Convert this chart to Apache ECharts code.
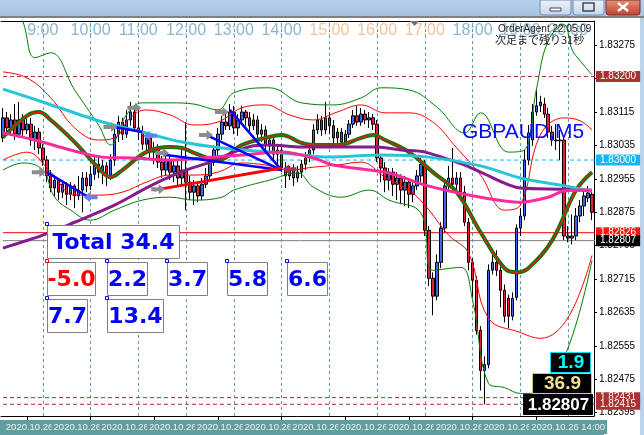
<!DOCTYPE html>
<html>
<head>
<meta charset="utf-8">
<script src="https://cdn.jsdelivr.net/npm/echarts@6/dist/echarts.min.js"></script>
<style>
html, body { margin: 0; padding: 0; background: #fff; }
#main { width: 644px; height: 435px; }
</style>
</head>
<body>
<div id="main"></div>
<script>
// GBPAUD M5, 2020.10.26 02:10 .. 14:30 (server time)

// candles: [open, close, low, high]
const candles = [
[1.83053,1.83101,1.83043,1.83125],[1.83101,1.83077,1.83067,1.83115],[1.83077,1.83096,1.83062,1.83110],[1.83096,1.83062,1.83048,1.83134],
[1.83062,1.83096,1.83053,1.83139],[1.83096,1.83072,1.83058,1.83110],[1.83072,1.83086,1.83062,1.83101],[1.83086,1.83048,1.83034,1.83101],
[1.83048,1.83067,1.83024,1.83082],[1.83067,1.83029,1.83014,1.83077],[1.83029,1.83000,1.82986,1.83038],[1.83000,1.82962,1.82947,1.83010],
[1.82962,1.82933,1.82923,1.82976],[1.82933,1.82952,1.82914,1.82962],[1.82952,1.82923,1.82904,1.82957],[1.82923,1.82942,1.82909,1.82952],
[1.82942,1.82918,1.82892,1.82947],[1.82918,1.82938,1.82904,1.82947],[1.82938,1.82914,1.82885,1.82942],[1.82914,1.82928,1.82904,1.82962],
[1.82928,1.82957,1.82875,1.82971],[1.82957,1.82938,1.82923,1.82971],[1.82938,1.82966,1.82928,1.82986],[1.82966,1.82990,1.82952,1.83010],
[1.82990,1.82971,1.82957,1.83005],[1.82971,1.82986,1.82942,1.83000],[1.82986,1.82962,1.82938,1.82995],[1.82962,1.83000,1.82952,1.83014],
[1.83000,1.83062,1.82986,1.83077],[1.83062,1.83091,1.83043,1.83106],[1.83091,1.83062,1.83048,1.83101],[1.83062,1.83096,1.83053,1.83120],
[1.83096,1.83115,1.83082,1.83139],[1.83115,1.83077,1.83067,1.83130],[1.83077,1.83067,1.83048,1.83125],[1.83067,1.83038,1.83024,1.83082],
[1.83038,1.83053,1.83019,1.83067],[1.83053,1.83019,1.83005,1.83062],[1.83019,1.83029,1.82990,1.83043],[1.83029,1.82995,1.82981,1.83038],
[1.82995,1.82976,1.82957,1.83010],[1.82976,1.83000,1.82962,1.83014],[1.83000,1.82971,1.82952,1.83010],[1.82971,1.82986,1.82947,1.83000],
[1.82986,1.82957,1.82938,1.83000],[1.82957,1.82976,1.82942,1.83024],[1.82976,1.82947,1.82880,1.83091],[1.82947,1.82923,1.82904,1.82962],
[1.82923,1.82938,1.82892,1.82952],[1.82938,1.82914,1.82899,1.82947],[1.82914,1.82942,1.82904,1.82957],[1.82942,1.82962,1.82933,1.82981],
[1.82962,1.82995,1.82952,1.83010],[1.82995,1.83024,1.82986,1.83034],[1.83024,1.83062,1.83010,1.83077],[1.83062,1.83091,1.83048,1.83106],
[1.83091,1.83082,1.83072,1.83115],[1.83082,1.83115,1.83072,1.83134],[1.83115,1.83077,1.83062,1.83130],[1.83077,1.83096,1.83058,1.83110],
[1.83096,1.83115,1.83086,1.83130],[1.83115,1.83101,1.83082,1.83120],[1.83101,1.83082,1.83067,1.83115],[1.83082,1.83096,1.83072,1.83110],
[1.83096,1.83062,1.83053,1.83106],[1.83062,1.83072,1.83043,1.83086],[1.83072,1.83038,1.83024,1.83082],[1.83038,1.83048,1.83014,1.83058],
[1.83048,1.83014,1.83000,1.83053],[1.83014,1.83024,1.82990,1.83038],[1.83024,1.82981,1.82971,1.83034],[1.82981,1.82962,1.82933,1.82995],
[1.82962,1.82976,1.82952,1.82986],[1.82976,1.82957,1.82938,1.82990],[1.82957,1.82971,1.82947,1.82986],[1.82971,1.82990,1.82957,1.83000],
[1.82990,1.83005,1.82976,1.83019],[1.83005,1.83024,1.82995,1.83034],[1.83024,1.83072,1.83014,1.83086],[1.83072,1.83096,1.83062,1.83110],
[1.83096,1.83072,1.83058,1.83106],[1.83072,1.83101,1.83062,1.83139],[1.83101,1.83082,1.83062,1.83115],[1.83082,1.83053,1.83038,1.83096],
[1.83053,1.83067,1.83034,1.83077],[1.83067,1.83043,1.83029,1.83077],[1.83043,1.83062,1.83029,1.83072],[1.83062,1.83086,1.83053,1.83096],
[1.83086,1.83106,1.83077,1.83120],[1.83106,1.83091,1.83082,1.83130],[1.83091,1.83110,1.83082,1.83125],[1.83110,1.83096,1.83086,1.83120],
[1.83096,1.83101,1.83077,1.83115],[1.83101,1.83086,1.83072,1.83110],[1.83086,1.83005,1.82995,1.83096],[1.83005,1.82981,1.82947,1.83014],
[1.82981,1.82952,1.82923,1.82995],[1.82952,1.82971,1.82928,1.82981],[1.82971,1.82942,1.82914,1.82981],[1.82942,1.82957,1.82904,1.82971],
[1.82957,1.82928,1.82894,1.82966],[1.82928,1.82947,1.82890,1.82962],[1.82947,1.82918,1.82885,1.82957],[1.82918,1.82938,1.82899,1.82952],
[1.82938,1.82962,1.82928,1.82976],[1.82962,1.82990,1.82947,1.83005],[1.82986,1.82832,1.82818,1.83000],[1.82832,1.82717,1.82698,1.82842],
[1.82717,1.82674,1.82628,1.82731],[1.82674,1.82755,1.82664,1.82774],[1.82755,1.82837,1.82741,1.82851],[1.82837,1.82938,1.82827,1.82952],
[1.82938,1.82957,1.82923,1.82986],[1.82957,1.82942,1.82928,1.83029],[1.82942,1.82957,1.82923,1.82971],[1.82957,1.82923,1.82909,1.82971],
[1.82923,1.82851,1.82842,1.82938],[1.82851,1.82755,1.82736,1.82861],[1.82755,1.82712,1.82671,1.82765],[1.82712,1.82592,1.82582,1.82722],
[1.82592,1.82496,1.82448,1.82602],[1.82496,1.82510,1.82415,1.82530],[1.82510,1.82736,1.82501,1.82750],[1.82736,1.82755,1.82726,1.82784],
[1.82755,1.82736,1.82722,1.82784],[1.82736,1.82688,1.82647,1.82746],[1.82688,1.82626,1.82611,1.82702],[1.82669,1.82626,1.82597,1.82678],
[1.82626,1.82669,1.82616,1.82683],[1.82671,1.82837,1.82664,1.82846],[1.82837,1.82866,1.82818,1.82885],[1.82866,1.83000,1.82856,1.83024],
[1.83000,1.83065,1.82988,1.83084],[1.83048,1.83115,1.83034,1.83134],[1.83115,1.83130,1.83106,1.83168],[1.83130,1.83139,1.83115,1.83154],
[1.83134,1.83110,1.83101,1.83149],[1.83110,1.83067,1.83053,1.83125],[1.83067,1.83048,1.83034,1.83082],[1.83048,1.83046,1.83024,1.83086],
[1.83046,1.83048,1.83000,1.83072],[1.83048,1.82818,1.82808,1.83058],[1.82818,1.82813,1.82803,1.82842],[1.82813,1.82818,1.82798,1.82870],
[1.82818,1.82866,1.82808,1.82885],[1.82866,1.82890,1.82851,1.82904],[1.82890,1.82914,1.82866,1.82928],[1.82909,1.82921,1.82899,1.82938],
[1.82918,1.82875,1.82856,1.82928]
];

// indicator lines: [bar index, price]
const maCyan = [[0,1.83170],[10,1.83139],[25,1.83091],[35,1.83067],[45,1.83043],[55,1.83029],[70,1.83017],[82,1.83007],
  [95,1.83012],[107,1.83007],[120,1.82986],[130,1.82957],[140,1.82940],[148,1.82926]];
const maPink = [[0,1.83065],[8,1.83048],[17,1.83024],[25,1.83007],[33,1.83005],[42,1.83000],[50,1.83005],[60,1.83012],
  [70,1.83019],[78,1.83005],[83,1.82988],[97,1.82969],[106,1.82940],[120,1.82911],[130,1.82899],[137,1.82911],[141,1.82926],[148,1.82928]];
const maPurple = [[0,1.82789],[10,1.82820],[18,1.82851],[28,1.82892],[35,1.82928],[40,1.82952],[46,1.82976],[52,1.82995],
  [58,1.83019],[63,1.83034],[67,1.83036],[75,1.83031],[94,1.83031],[100,1.83024],[106,1.83019],[116,1.82988],[120,1.82971],
  [130,1.82933],[141,1.82930],[148,1.82926]];
const bbMid = [[0,1.83055],[6,1.83106],[9,1.83115],[12,1.83096],[18,1.83043],[24,1.82981],[27,1.82959],[30,1.82976],
  [36,1.83019],[42,1.83031],[45,1.83029],[48,1.83017],[54,1.83000],[60,1.83036],[66,1.83053],[70,1.83060],[75,1.83041],
  [78,1.83036],[84,1.83036],[90,1.83053],[93,1.83060],[96,1.83048],[102,1.83019],[108,1.82971],[114,1.82923],[120,1.82827],
  [126,1.82741],[129,1.82731],[132,1.82741],[138,1.82808],[144,1.82928],[148,1.82971]];
const bbUpper = [[0,1.83211],[6,1.83197],[12,1.83149],[18,1.83077],[24,1.83048],[28,1.83053],[32,1.83101],[36,1.83120],
  [42,1.83108],[48,1.83084],[54,1.83091],[60,1.83125],[66,1.83132],[72,1.83108],[78,1.83096],[84,1.83115],[90,1.83132],
  [96,1.83113],[102,1.83113],[108,1.83091],[114,1.83029],[120,1.82964],[126,1.82880],[130,1.82892],[135,1.83060],
  [141,1.83101],[145,1.83094],[148,1.83072]];
const bbLower = [[0,1.83000],[6,1.83019],[12,1.82971],[18,1.82916],[24,1.82916],[30,1.82923],[36,1.82947],[42,1.82964],
  [48,1.82964],[54,1.82971],[60,1.82993],[66,1.82988],[72,1.82976],[78,1.82983],[84,1.82988],[90,1.82995],[96,1.82959],
  [102,1.82928],[106,1.82892],[112,1.82820],[117,1.82777],[122,1.82621],[130,1.82587],[135,1.82573],[142,1.82623],[148,1.82772]];
const envUpper = [[3,1.83360],[5,1.83331],[8,1.83245],[12,1.83257],[18,1.83168],[24,1.83084],[27,1.83036],[31,1.83108],
  [35,1.83137],[42,1.83137],[48,1.83134],[54,1.83120],[58,1.83161],[67,1.83173],[75,1.83137],[83,1.83132],[90,1.83149],
  [95,1.83173],[102,1.83168],[109,1.83127],[116,1.83065],[120,1.83113],[127,1.83019],[131,1.83024],[134,1.83168],
  [137,1.83286],[141,1.83324],[143,1.83264],[145,1.83238],[148,1.83204]];
const envLower = [[0,1.82976],[5,1.82993],[10,1.82976],[13,1.82911],[17,1.82880],[22,1.82856],[28,1.82880],[35,1.82904],
  [42,1.82911],[48,1.82904],[55,1.82911],[58,1.82928],[67,1.82952],[74,1.82969],[78,1.82935],[85,1.82911],[92,1.82928],
  [97,1.82904],[105,1.82873],[108,1.82736],[115,1.82743],[118,1.82664],[122,1.82465],[126,1.82455],[130,1.82441],
  [135,1.82443],[142,1.82551],[148,1.82760]];

// trade lines (open -> close)
const buyLines = [
  [[11,1.82971],[21,1.82914]],
  [[28,1.83079],[35,1.83067]],
  [[41,1.83012],[70,1.82976]],
  [[51,1.83060],[70,1.82976]],
  [[57,1.83120],[70,1.82976]]
];
const sellLines = [
  [[38,1.82928],[70,1.82981]]
];
const entryArrows = [[9,1.82971],[27,1.83079],[33,1.83125],[39,1.82930],[40,1.83017],[51,1.83060],[55,1.83115]];
const buyCloseArrows = [[22,1.82911],[37,1.83058]];
const sellCloseArrows = [[72,1.82978]];

// price levels on the right scale
const levelPrices = [1.83200, 1.83000, 1.82826, 1.82807, 1.82431, 1.82415];
const levelColors = ['#a83232', '#14b8f0', '#ff1414', '#000000', '#a83232', '#a83232'];
const levelLineColors = ['#a83232', '#00bfff', '#ff0000', '#808080', '#a83232', '#a83232'];
const levelDashed = [true, true, false, false, true, true];

// axis labels
const yTicks = [1.82395, 1.82475, 1.82555, 1.82635, 1.82715, 1.82795, 1.82875, 1.82955, 1.83035, 1.83115, 1.83195, 1.83275];
const hourIndex = [10, 22, 34, 46, 58, 70, 82, 94, 106, 118, 130, 142];
const topHours = ['9:00','10:00','11:00','12:00','13:00','14:00','15:00','16:00','17:00','18:00','19:00','20:00'];
const bottomStamps = ['2020.10.26 03:00','2020.10.26 04:00','2020.10.26 05:00','2020.10.26 06:00','2020.10.26 07:00',
  '2020.10.26 08:00','2020.10.26 09:00','2020.10.26 10:00','2020.10.26 11:00','2020.10.26 12:00','2020.10.26 13:00',
  '2020.10.26 14:00'];

// panel values
const totalValue = 34.4;
const boxValues = [-5.0, 2.2, 3.7, 5.8, 6.6, 7.7, 13.4];
const infoValues = ['1.9', '36.9', '1.82807'];

const N = 149;
const times = [];
for (let i = 0; i < N; i++) {
  const m = 130 + i * 5;
  times.push(String(Math.floor(m / 60)).padStart(2, '0') + ':' + String(m % 60).padStart(2, '0'));
}

function lineSeries(data, color, width, z, smooth) {
  return {
    type: 'line', data: data, smooth: smooth, symbol: 'none', silent: true, z: z,
    lineStyle: { color: color, width: width }
  };
}

const series = [];
series.push({
  type: 'candlestick',
  data: candles,
  barWidth: 3,
  z: 2,
  itemStyle: { color: '#3d66f0', color0: '#e81e3c', borderColor: '#000', borderColor0: '#000', borderWidth: 1 },
  markLine: {
    z: 1,
    silent: true,
    symbol: 'none',
    animation: false,
    label: { show: false },
    data: hourIndex.map(i => ({
      xAxis: times[i],
      lineStyle: { color: '#5f9ea0', type: [3, 3], width: 1 }
    }))
  }
});
// horizontal price levels with their tags on the price scale
levelPrices.forEach((p, k) => {
  series.push({
    type: 'line', silent: true, z: 1, symbol: 'none',
    data: [[-0.5, p], [148.5, p]],
    lineStyle: { color: levelLineColors[k], type: levelDashed[k] ? [4, 3] : 'solid', width: 1 },
    endLabel: {
      show: true, distance: 1, formatter: p.toFixed(5),
      color: '#fff', backgroundColor: levelColors[k], padding: [1, 4, 0, 4],
      fontSize: 10, fontFamily: 'Liberation Sans'
    }
  });
});
series.push(lineSeries(envUpper, '#008000', 1, 3, 0.4));
series.push(lineSeries(envLower, '#008000', 1, 3, 0.4));
series.push(lineSeries(bbUpper, '#ff0000', 1, 3, 0.4));
series.push(lineSeries(bbLower, '#ff0000', 1, 3, 0.4));
series.push(lineSeries(bbMid, '#0a7a0a', 4, 4, 0.4));
series.push(lineSeries(bbMid, '#ff1010', 1.2, 4, 0.4));
series.push(lineSeries(maPurple, '#871a8c', 3, 5, 0.3));
series.push(lineSeries(maCyan, '#25c6d6', 3, 5, 0.3));
series.push(lineSeries(maPink, '#ff2a9c', 3, 5, 0.3));
buyLines.forEach(d => series.push(lineSeries(d, '#0000ff', 2.5, 6, false)));
sellLines.forEach(d => series.push(lineSeries(d, '#ff0000', 3, 6, false)));

const arrowRight = 'path://M0,3 L7,3 L7,0 L13,5 L7,10 L7,7 L0,7 Z';
const arrowLeft = 'path://M13,3 L6,3 L6,0 L0,5 L6,10 L6,7 L13,7 Z';
series.push({ type: 'scatter', data: entryArrows, symbol: arrowRight, symbolSize: [14, 10], z: 7, silent: true,
  itemStyle: { color: '#8c8c8c', opacity: 1 } });
series.push({ type: 'scatter', data: buyCloseArrows, symbol: arrowLeft, symbolSize: [14, 10], z: 7, silent: true,
  itemStyle: { color: '#5b86f2', opacity: 1 } });
series.push({ type: 'scatter', data: sellCloseArrows, symbol: arrowLeft, symbolSize: [14, 10], z: 7, silent: true,
  itemStyle: { color: '#a2345e', opacity: 1 } });

// graphic: window frame, panels, texts
const g = [];
g.push({ type: 'rect', z: -20, shape: { x: 0, y: 0, width: 644, height: 16 },
  style: { fill: new echarts.graphic.LinearGradient(0, 0, 0, 1, [{ offset: 0, color: '#b8d0eb' }, { offset: 1, color: '#a5c1e1' }]) } });
g.push({ type: 'rect', z: -20, shape: { x: 0, y: 16, width: 644, height: 2 }, style: { fill: '#808080' } });
g.push({ type: 'rect', z: -20, shape: { x: 640, y: 18, width: 4, height: 417 }, style: { fill: '#bcd3ec' } });
g.push({ type: 'rect', z: -20, shape: { x: 0, y: 420, width: 604, height: 15 }, style: { fill: '#5f9ea0' } });
// caption buttons
[[540, '#eef3fa', '#c5d4e9'], [573, '#eef3fa', '#c5d4e9'], [606, '#e6907e', '#c3412f']].forEach((b, k) => {
  g.push({ type: 'rect', z: 50, shape: { x: b[0], y: 0, width: k === 2 ? 34 : 31, height: 15, r: [0, 0, 3, 3] },
    style: { fill: new echarts.graphic.LinearGradient(0, 0, 0, 1, [{ offset: 0, color: b[1] }, { offset: 1, color: b[2] }]),
      stroke: k === 2 ? '#7a2c22' : '#6f8db5', lineWidth: 1 } });
});
g.push({ type: 'rect', z: 51, shape: { x: 550, y: 8, width: 11, height: 3 }, style: { fill: '#fff', stroke: '#3c4a5c', lineWidth: 1 } });
g.push({ type: 'rect', z: 51, shape: { x: 583, y: 3, width: 11, height: 8 }, style: { fill: 'none', stroke: '#3c4a5c', lineWidth: 1.5 } });
g.push({ type: 'line', z: 51, shape: { x1: 618, y1: 3, x2: 628, y2: 11 }, style: { stroke: '#fff', lineWidth: 2.5 } });
g.push({ type: 'line', z: 51, shape: { x1: 628, y1: 3, x2: 618, y2: 11 }, style: { stroke: '#fff', lineWidth: 2.5 } });
g.push({ type: 'polygon', z: 20, shape: { points: [[410, 21], [419, 21], [414.5, 26]] }, style: { fill: '#707070' } });

g.push({ type: 'text', z: 30, style: { text: 'OrderAgent 22:05:09', x: 498, y: 29, font: '10px "Liberation Sans"', fill: '#222',
  verticalAlign: 'middle' } });
g.push({ type: 'text', z: 30, style: { text: '次足まで残り31秒', x: 495, y: 40, font: '11px "Noto Sans CJK JP"', fill: '#222',
  verticalAlign: 'middle' } });
g.push({ type: 'text', z: 30, style: { text: 'GBPAUD,M5', x: 462, y: 132, font: '21px "Liberation Sans"', fill: '#0a0aff',
  verticalAlign: 'middle' } });

// value panels
const boxFont = 'bold 22px "DejaVu Sans"';
const totalBox = [47, 225, 132];
const boxLayout = [[47, 262, 48], [107, 262, 40], [167, 262, 40], [227, 262, 40], [287, 262, 40], [47, 299, 40], [107, 299, 56]];
function panel(x, y, w, text, color) {
  g.push({ type: 'rect', z: 40, shape: { x: x + 0.5, y: y + 0.5, width: w, height: 33 }, style: { fill: '#fff', stroke: '#7f7f7f', lineWidth: 1 } });
  g.push({ type: 'text', z: 41, style: { text: text, x: x + w / 2 + 0.5, y: y + 18, font: boxFont, fill: color, align: 'center', verticalAlign: 'middle' } });
  g.push({ type: 'rect', z: 42, shape: { x: x - 1.5, y: y - 2.5, width: 3, height: 3 }, style: { fill: '#fff', stroke: color, lineWidth: 1 } });
}
panel(totalBox[0], totalBox[1], totalBox[2], 'Total ' + totalValue.toFixed(1), '#0000ff');
boxValues.forEach((v, k) => panel(boxLayout[k][0], boxLayout[k][1], boxLayout[k][2], v.toFixed(1), v < 0 ? '#ff0000' : '#0000ff'));

// info boxes bottom right
const infoLayout = [[550, 352, 40, 20, '#00ffff', '#00e0f0'], [532, 373, 59, 20, '#f0e08c', '#d8c67a'], [523, 394, 69, 20, '#ffffff', '#000']];
infoValues.forEach((t, k) => {
  const L = infoLayout[k];
  g.push({ type: 'rect', z: 40, shape: { x: L[0] + 0.5, y: L[1] + 0.5, width: L[2], height: L[3] }, style: { fill: '#000', stroke: L[5], lineWidth: 1 } });
  g.push({ type: 'text', z: 41, style: { text: t, x: L[0] + L[2] / 2 + 1, y: L[1] + L[3] / 2 + 1, font: 'bold ' + (k === 2 ? 17 : 19) + 'px "Liberation Sans"',
    fill: L[4], align: 'center', verticalAlign: 'middle' } });
});

const chart = echarts.init(document.getElementById('main'));
chart.setOption({
  animation: false,
  backgroundColor: '#fff',
  grid: { left: -2, right: 50, top: 21, bottom: 19, containLabel: false },
  xAxis: [{
    type: 'category', data: times, boundaryGap: true, position: 'bottom',
    axisLine: { show: true, lineStyle: { color: '#000', width: 1 } },
    axisTick: { show: true, alignWithLabel: true, length: 4, interval: i => i >= 6 && (i - 6) % 16 === 0, lineStyle: { color: '#000' } },
    axisLabel: {
      interval: 0, margin: 4,
      formatter: (v, i) => {
        const k = hourIndex.indexOf(i);
        return k < 0 ? '' : '{s|' + bottomStamps[k] + '}';
      },
      rich: {
        s: { color: '#f2f2e4', fontSize: 9.5, fontFamily: 'Liberation Sans', backgroundColor: '#5f9ea0', padding: [2, 2, 2, 2] }
      }
    },
    splitLine: { show: false }
  }, {
    type: 'category', data: times, boundaryGap: true, position: 'top',
    axisLine: { show: true, lineStyle: { color: '#000', width: 1 } },
    axisTick: { show: false },
    axisLabel: {
      inside: true, margin: 2, interval: 0,
      formatter: (v, i) => {
        const k = hourIndex.indexOf(i);
        if (k < 0) return '';
        return (k >= 6 && k <= 8) ? '{p|' + topHours[k] + '}' : '{b|' + topHours[k] + '}';
      },
      rich: {
        b: { color: '#8cb5d2', fontSize: 16, fontFamily: 'Liberation Sans' },
        p: { color: '#f2c29c', fontSize: 16, fontFamily: 'Liberation Sans' }
      }
    },
    splitLine: { show: false }
  }],
  yAxis: {
    type: 'value', position: 'right', min: 1.82387, max: 1.83333, scale: true,
    axisLine: { show: true, lineStyle: { color: '#000' } },
    axisTick: { show: true, length: 3, customValues: yTicks, lineStyle: { color: '#000' } },
    axisLabel: { customValues: yTicks, formatter: v => v.toFixed(5), color: '#000', fontSize: 10, fontFamily: 'Liberation Sans', margin: 5 },
    splitLine: { show: false }
  },
  series: series,
  graphic: { elements: g }
});
</script>
</body>
</html>
